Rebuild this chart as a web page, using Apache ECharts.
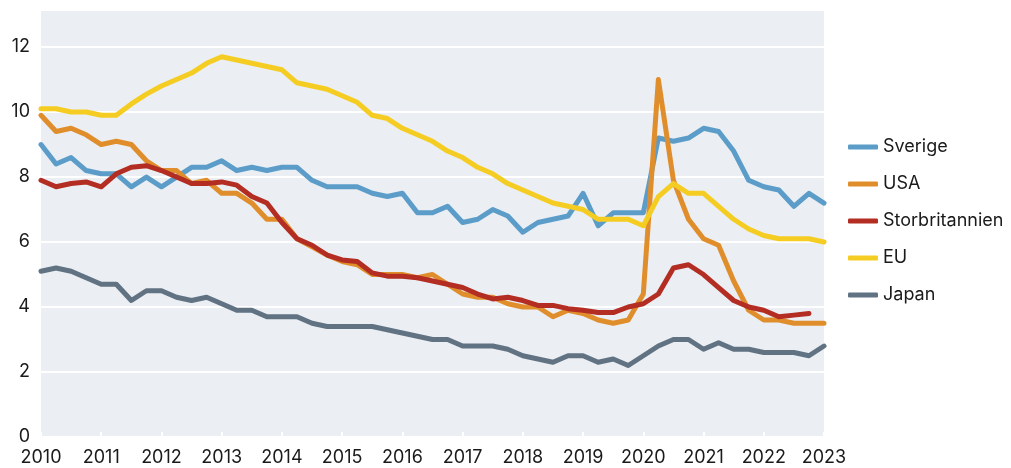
<!DOCTYPE html>
<html>
<head>
<meta charset="utf-8">
<script src="https://cdn.jsdelivr.net/npm/echarts@6/dist/echarts.min.js"></script>
<style>
  html, body { margin: 0; padding: 0; background: #fff; }
  #chart { width: 1011px; height: 468px; }
</style>
</head>
<body>
<div id="chart"></div>
<script>
// quarterly values, 2010 K1 .. 2023 K1
const startYear = 2010;
const sverige = [
  9.0, 8.4, 8.6, 8.2, 8.1, 8.1, 7.7, 8.0, 7.7, 8.0, 8.3, 8.3, 8.5, 8.2,
  8.3, 8.2, 8.3, 8.3, 7.9, 7.7, 7.7, 7.7, 7.5, 7.4, 7.5, 6.9, 6.9,
  7.1, 6.6, 6.7, 7.0, 6.8, 6.3, 6.6, 6.7, 6.8, 7.5, 6.5, 6.9, 6.9,
  6.9, 9.2, 9.1, 9.2, 9.5, 9.4, 8.8, 7.9, 7.7, 7.6, 7.1, 7.5, 7.2
];
const usa = [
  9.9, 9.4, 9.5, 9.3, 9.0, 9.1, 9.0, 8.5, 8.2, 8.2, 7.8, 7.9, 7.5, 7.5,
  7.2, 6.7, 6.7, 6.1, 5.85, 5.6, 5.4, 5.3, 5.0, 5.0, 5.0, 4.9, 5.0,
  4.7, 4.4, 4.3, 4.3, 4.1, 4.0, 4.0, 3.7, 3.9, 3.8, 3.6, 3.5, 3.6,
  4.4, 11.0, 7.9, 6.7, 6.1, 5.9, 4.8, 3.9, 3.6, 3.6, 3.5, 3.5, 3.5
];
const storbritannien = [
  7.9, 7.7, 7.8, 7.85, 7.7, 8.1, 8.3, 8.35, 8.2, 8.0, 7.8, 7.8, 7.85, 7.75,
  7.4, 7.2, 6.6, 6.1, 5.9, 5.6, 5.45, 5.4, 5.05, 4.95, 4.95, 4.9, 4.8,
  4.7, 4.6, 4.4, 4.25, 4.3, 4.2, 4.05, 4.05, 3.95, 3.9, 3.83, 3.83, 4.0,
  4.1, 4.4, 5.2, 5.3, 5.0, 4.6, 4.2, 4.0, 3.9, 3.7, 3.75, 3.8
];
const eu = [
  10.1, 10.1, 10.0, 10.0, 9.9, 9.9, 10.25, 10.55, 10.8, 11.0, 11.2, 11.5, 11.7, 11.6,
  11.5, 11.4, 11.3, 10.9, 10.8, 10.7, 10.5, 10.3, 9.9, 9.8, 9.5, 9.3, 9.1,
  8.8, 8.6, 8.3, 8.1, 7.8, 7.6, 7.4, 7.2, 7.1, 7.0, 6.7, 6.7, 6.7,
  6.5, 7.4, 7.8, 7.5, 7.5, 7.1, 6.7, 6.4, 6.2, 6.1, 6.1, 6.1, 6.0
];
const japan = [
  5.1, 5.2, 5.1, 4.9, 4.7, 4.7, 4.2, 4.5, 4.5, 4.3, 4.2, 4.3, 4.1, 3.9,
  3.9, 3.7, 3.7, 3.7, 3.5, 3.4, 3.4, 3.4, 3.4, 3.3, 3.2, 3.1, 3.0,
  3.0, 2.8, 2.8, 2.8, 2.7, 2.5, 2.4, 2.3, 2.5, 2.5, 2.3, 2.4, 2.2,
  2.5, 2.8, 3.0, 3.0, 2.7, 2.9, 2.7, 2.7, 2.6, 2.6, 2.6, 2.5, 2.8
];
const names = ["Sverige", "USA", "Storbritannien", "EU", "Japan"];
const colors = ["#5b9dc8", "#e08e2b", "#b32d23", "#f5cd22", "#617383"];

const toPoints = (arr) => arr.map((v, i) => [startYear + i / 4, v]);

const chart = echarts.init(document.getElementById("chart"));
const font = "Inter, 'Noto Sans', sans-serif";

chart.setOption({
  animation: false,
  grid: {
    left: 41,
    right: 187,
    top: 10,
    bottom: 31,
    show: true,
    backgroundColor: "#ebeef3",
    borderWidth: 0,
  },
  legend: {
    orient: "vertical",
    left: 843,
    top: 132,
    icon: "roundRect",
    itemWidth: 30,
    itemHeight: 5,
    itemGap: 17,
    textStyle: {
      fontFamily: font,
      fontSize: 18,
      color: "#1a1a1a",
      lineHeight: 20,
    },
    data: names,
  },
  xAxis: {
    type: "value",
    min: 2010,
    max: 2023,
    interval: 1,
    axisLine: { show: false },
    axisTick: {
      show: true,
      inside: true,
      length: 5,
      lineStyle: { color: "#ffffff", width: 2 },
    },
    splitLine: { show: false },
    axisLabel: {
      margin: 12,
      fontFamily: font,
      fontSize: 18,
      color: "#1a1a1a",
      formatter: (v) => String(v),
    },
  },
  yAxis: {
    type: "value",
    min: 0,
    max: 13.14,
    interval: 2,
    axisLine: { show: false },
    axisTick: { show: false },
    splitLine: { lineStyle: { color: "#ffffff", width: 2 } },
    axisLabel: {
      margin: 11,
      fontFamily: font,
      fontSize: 18,
      color: "#1a1a1a",
      formatter: (v) => (v % 2 === 0 ? String(v) : ""),
    },
  },
  series: [sverige, usa, storbritannien, eu, japan].map((arr, k) => ({
    name: names[k],
    type: "line",
    symbol: "none",
    color: colors[k],
    lineStyle: { width: 5, color: colors[k], cap: "round", join: "round" },
    data: toPoints(arr),
  })),
});
</script>
</body>
</html>
